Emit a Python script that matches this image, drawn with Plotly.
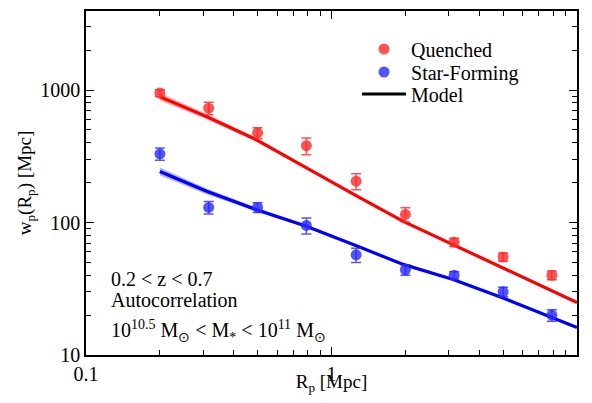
import plotly.graph_objects as go
import numpy as np

# Data
rp = [0.2, 0.316, 0.5, 0.79, 1.26, 2.0, 3.16, 5.0, 7.9]
q_wp = [950, 730, 475, 380, 205, 115, 71, 55, 40]
q_err = [55, 80, 45, 55, 28, 14, 5, 4, 3]
sf_wp = [330, 130, 130, 95, 57, 44, 40, 30, 20]
sf_err = [35, 14, 11, 13, 7, 4, 2.5, 2.5, 2]

model_rp = [0.2, 0.31, 0.495, 0.79, 1.27, 1.96, 3.13, 5.0, 7.9, 10.0]
q_model = [891, 630, 421, 258, 158, 102, 68, 46, 30.6, 24.9]
sf_model = [243, 172, 125, 93.8, 66.4, 48.3, 37.2, 26.9, 19.2, 16.1]
band_frac = [0.07, 0.05, 0.035, 0.025, 0.015, 0.01, 0.008, 0.006, 0.005, 0.005]

x_ticks = [0.1, 1, 10]
x_ticktext = ["0.1", "1", "10"]
y_ticks = [10, 100, 1000]
y_ticktext = ["10", "100", "1000"]
x_minor = [m * d for d in [0.1, 1] for m in range(2, 10)]
y_minor = [m * d for d in [10, 100, 1000] for m in range(2, 10)]

info_lines = [
    "0.2 &lt; z &lt; 0.7",
    "Autocorrelation",
    "10<sup>10.5</sup> M<sub>⊙</sub> &lt; M<sub>*</sub> &lt; 10<sup>11</sup> M<sub>⊙</sub>",
]

RED = "rgba(255,40,40,0.8)"
BLUE = "rgba(40,40,255,0.8)"
font_family = "Times New Roman"

fig = go.Figure()

def band(xs, ys, fr, color):
    up = [y * (1 + f) for y, f in zip(ys, fr)]
    lo = [y * (1 - f) for y, f in zip(ys, fr)]
    fig.add_trace(go.Scatter(x=xs + xs[::-1], y=up + lo[::-1], fill="toself",
                             fillcolor=color, line=dict(width=0), mode="lines",
                             hoverinfo="skip", showlegend=False))

band(model_rp, q_model, band_frac, "rgba(255,0,0,0.3)")
band(model_rp, sf_model, band_frac, "rgba(0,0,255,0.3)")

fig.add_trace(go.Scatter(x=model_rp, y=q_model, mode="lines",
                         line=dict(color="#ff0000", width=3.2), showlegend=False))
fig.add_trace(go.Scatter(x=model_rp, y=sf_model, mode="lines",
                         line=dict(color="#0000ff", width=3.2), showlegend=False))

fig.add_trace(go.Scatter(x=rp, y=q_wp, mode="markers", name="Quenched", legend="legend",
                         marker=dict(color=RED, size=11, line=dict(width=0)),
                         error_y=dict(type="data", array=q_err, color=RED, thickness=1.5, width=5)))
fig.add_trace(go.Scatter(x=rp, y=sf_wp, mode="markers", name="Star-Forming", legend="legend2",
                         marker=dict(color=BLUE, size=11, line=dict(width=0)),
                         error_y=dict(type="data", array=sf_err, color=BLUE, thickness=1.5, width=5)))
fig.add_trace(go.Scatter(x=[None], y=[None], mode="lines", name="Model", legend="legend3",
                         line=dict(color="black", width=3)))

axis_common = dict(type="log", showgrid=False, zeroline=False, showline=True,
                   linecolor="black", linewidth=1.5, mirror="ticks", automargin=False,
                   ticks="inside", ticklen=8, tickwidth=1.2, tickcolor="black",
                   tickfont=dict(family=font_family, size=20, color="black"))

def leg(yp):
    return dict(x=0.552, y=yp, xanchor="left", yanchor="middle", bgcolor="rgba(0,0,0,0)",
                font=dict(family=font_family, size=20), itemwidth=44)

fig.update_layout(
    width=576, height=387,
    margin=dict(l=78, r=7, t=3, b=40),
    plot_bgcolor="white", paper_bgcolor="white",
    font=dict(family=font_family, color="black"),
    xaxis=dict(range=[-1, 1], tickmode="array", tickvals=x_ticks, ticktext=x_ticktext,
               minor=dict(tickmode="array", tickvals=x_minor, ticks="inside", ticklen=5,
                          tickwidth=1, tickcolor="black", showgrid=False),
               title=dict(text="R<sub>p</sub> [Mpc]", font=dict(family=font_family, size=19), standoff=0),
               **axis_common),
    yaxis=dict(range=[1, np.log10(3950)], tickmode="array", tickvals=y_ticks, ticktext=y_ticktext,
               minor=dict(tickmode="array", tickvals=y_minor, ticks="inside", ticklen=5,
                          tickwidth=1, tickcolor="black", showgrid=False),
               title=dict(text="w<sub>p</sub>(R<sub>p</sub>) [Mpc]", font=dict(family=font_family, size=19), standoff=4),
               **axis_common),
    legend=leg(0.8895),
    legend2=leg(0.8227),
    legend3=leg(0.7587),
    showlegend=True,
)

for txt, yp in zip(info_lines, [0.221, 0.160, 0.071]):
    fig.add_annotation(x=0.047, y=yp, xref="paper", yref="paper", xanchor="left", yanchor="middle",
                       align="left", showarrow=False, text=txt,
                       font=dict(family=font_family, size=20, color="black"))

fig.write_html("out.html")
